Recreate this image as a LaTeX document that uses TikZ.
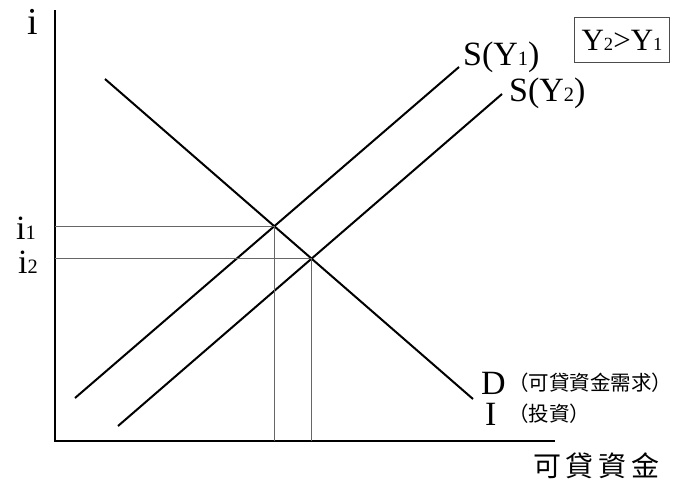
\documentclass[tikz,border=0pt]{standalone}
\usepackage{fontspec}
\setmainfont{Liberation Serif}
\newfontfamily\cjk{Noto Sans CJK TC}
\usetikzlibrary{positioning,intersections}
\newcommand{\sm}[1]{\scalebox{0.6}{#1}}

\begin{document}
\begin{tikzpicture}[
    x=1pt, y=-1pt,
    axis/.style={draw, line width=2pt},
    curve/.style={draw, line width=2pt},
    guide/.style={draw, black!60, line width=1pt},
    lbl/.style={inner sep=0pt, font=\fontsize{34}{38}\selectfont},
    cjklbl/.style={inner sep=0pt, font=\fontsize{20.5}{24}\selectfont\cjk},
    tag/.style={draw=black!70, line width=0.8pt, minimum width=95pt, minimum height=45pt, font=\fontsize{31}{34}\selectfont}
]
\useasboundingbox (0,0) rectangle (676,485);

% axes
\coordinate (O) at (55,441);
\coordinate (top) at (55,10);
\coordinate (right) at (555,441);
\draw[axis] (top) -- (O) -- (right);

% demand and the two supply lines
\coordinate (d0) at (105,79);
\coordinate (d1) at (473,399);
\coordinate (sa0) at (75,398);
\coordinate (sa1) at (459,67);
\coordinate (sb0) at (118,426);
\coordinate (sb1) at (502,94);
\draw[curve, name path=dem] (d0) -- (d1);
\draw[curve, name path=supA] (sa0) -- (sa1);
\draw[curve, name path=supB] (sb0) -- (sb1);
\path[name intersections={of=dem and supA, by=E1}];
\path[name intersections={of=dem and supB, by=E2}];

% equilibrium guides
\draw[guide] (O |- E1) -- (E1) -- (E1 |- O);
\draw[guide] (O |- E2) -- (E2) -- (E2 |- O);

% labels
\node[lbl, font=\fontsize{38}{42}\selectfont] (iax) at (33,22) {i};
\node[lbl, anchor=east] (i1) at (36,228) {i\sm{1}};
\node[lbl, anchor=east] (i2) at (38,262) {i\sm{2}};
\node[lbl, anchor=west] (sA) at (463,57) {S(Y\sm{1})};
\node[lbl, anchor=west] (sB) at (509,93) {S(Y\sm{2})};
\node[tag] (cmp) at (622,40) {Y\sm{2}>Y\sm{1}};
\node[lbl, anchor=west] (dl) at (481,383) {D};
\node[cjklbl, anchor=west, right=2pt of dl] (dtxt) {（可貸資金需求）};
\node[lbl, anchor=west] (il) at (485,414) {I};
\node[cjklbl, anchor=west] (itxt) at (dtxt.west |- il) {（投資）};
\node[inner sep=0pt, font=\fontsize{28}{30}\selectfont\cjk] (xax) at (596,466) {可\,貸\,資\,金};
\end{tikzpicture}
\end{document}
